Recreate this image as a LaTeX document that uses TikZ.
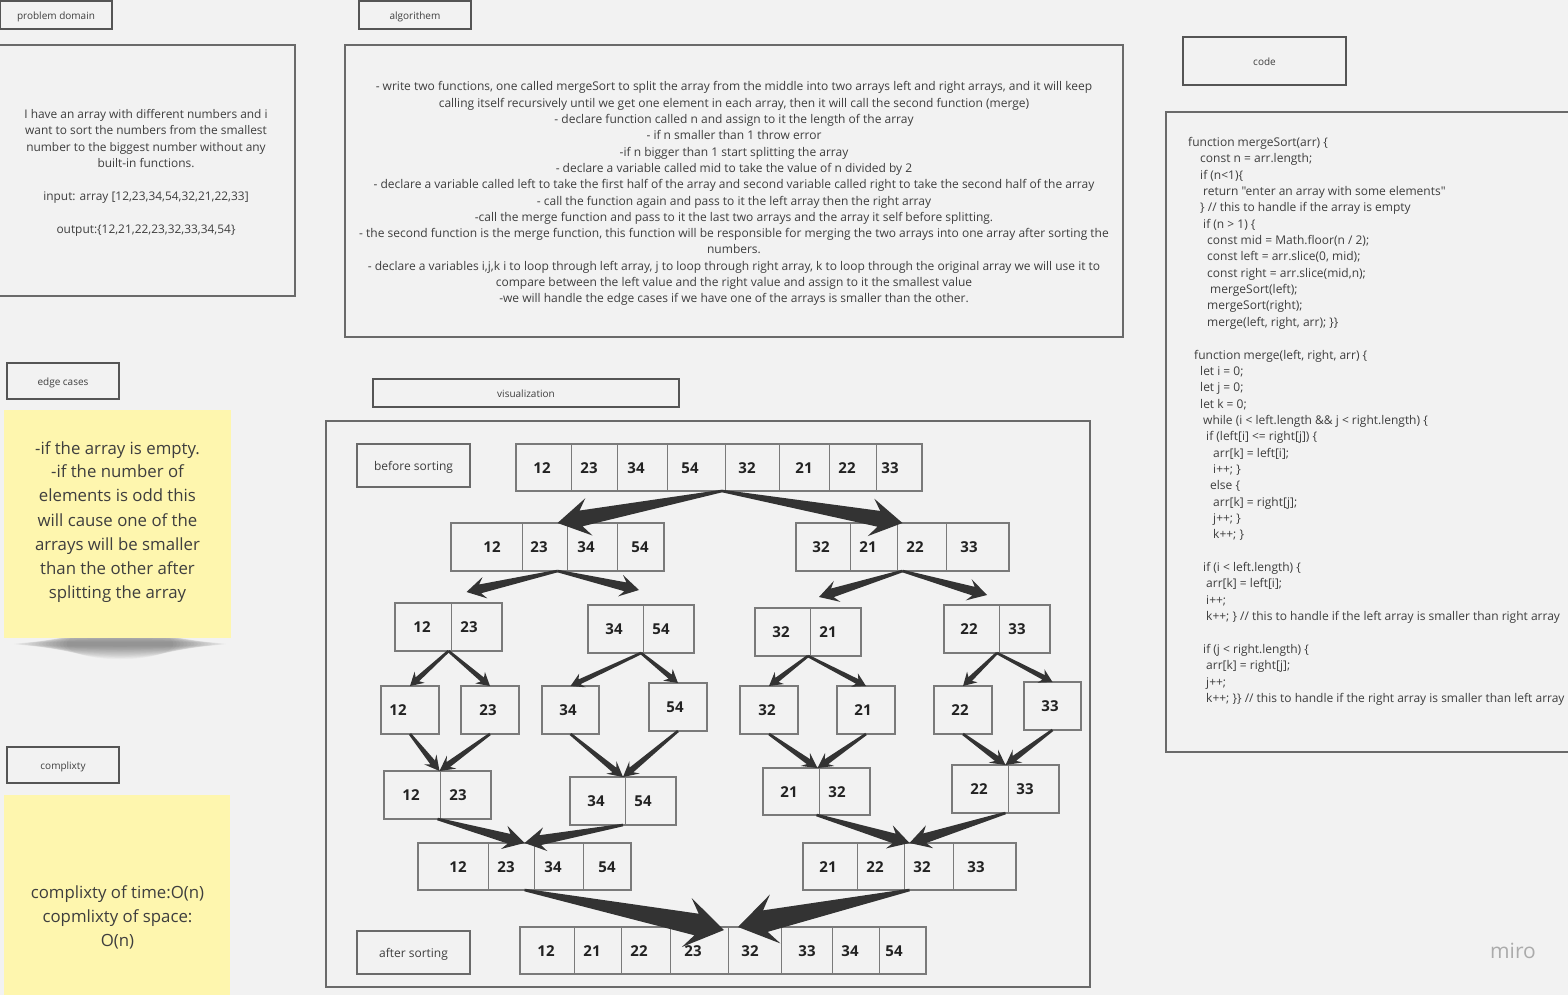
\documentclass[tikz,border=0pt]{standalone}
\usepackage{fontspec}
\setmainfont{Open Sans}[Ligatures=TeXOff]
\usetikzlibrary{calc}
\definecolor{bg}{HTML}{F2F2F2}
\definecolor{txt}{HTML}{3E3E3E}
\definecolor{edgec}{HTML}{555555}
\definecolor{panelc}{HTML}{6A6A6A}
\definecolor{cellc}{HTML}{7A7A7A}
\definecolor{sticky}{HTML}{FEF6AE}
\definecolor{arrowc}{HTML}{333333}
\definecolor{numc}{HTML}{222222}
\tikzset{
  lbl/.style={draw=edgec, line width=1.4pt, fill=bg, inner sep=0pt, outer sep=0pt, text=txt, font=\fontsize{10}{12}\selectfont, text height=1.0em, text depth=0.08em},
  biglbl/.style={lbl, draw=panelc, line width=1.2pt, font=\fontsize{12}{14}\selectfont},
  panel/.style={draw=panelc, line width=1.2pt, inner sep=0pt, outer sep=0pt},
  arrbox/.style={draw=cellc, line width=1.3pt, fill=bg, inner sep=0pt, outer sep=0pt},
  divider/.style={draw=cellc, line width=0.9pt},
  num/.style={font=\fontsize{15}{18}\selectfont\bfseries, text=numc, inner sep=0pt, text height=1.15em, text depth=0em},
  tline/.style={text=txt, inner sep=0pt, text height=0.98em, text depth=0.1em},
  algtxt/.style={tline, font=\fontsize{12}{14}\selectfont},
  probtxt/.style={tline, font=\fontsize{11.9}{14}\selectfont},
  codetxt/.style={tline, anchor=west, font=\fontsize{12}{14}\selectfont},
  stickytxt/.style={tline, font=\fontsize{16.8}{20}\selectfont},
}
\newcommand\arr[7]{%
  \node[arrbox, minimum width={#4-#2}, minimum height={#5-#3}] (#1) at ({(#2+#4)/2},{(#3+#5)/2}) {};
  \foreach \d in {#6} {\draw[divider] (\d,#3) -- (\d,#5);}
  \foreach \x/\t in {#7} {\node[num] (#1n\t) at (\x,{(#3+#5)/2}) {\t};}
}
\newcommand\tarrow[6]{%
  \coordinate (tarJ) at ($(#2)!#4!(#1)$);
  \coordinate (tarH) at ($(#2)!#5!(#1)$);
  \fill[arrowc] ($(#1)!1.3pt!90:(#2)$) -- ($(tarJ)!#3!90:(#2)$) -- ($(tarH)!#6!90:(#2)$) -- (#2)
     -- ($(tarH)!#6!-90:(#2)$) -- ($(tarJ)!#3!-90:(#2)$) -- ($(#1)!1.3pt!-90:(#2)$) -- cycle;
}
\begin{document}
\begin{tikzpicture}[x=1pt,y=-1pt]
\useasboundingbox[fill=bg] (0,0) rectangle (1568,995);

% ---------- problem domain ----------
\node[lbl, minimum width=112, minimum height=28] (pdlbl) at (56,15) {problem domain};
\node[panel, minimum width=297, minimum height=251] (pbox) at (146.5,170.5) {};
\node[probtxt] (p1) at (146,114) {I have an array with different numbers and i};
\node[probtxt] (p2) at (146,130.5) {want to sort the numbers from the smallest};
\node[probtxt] (p3) at (146,147) {number to the biggest number without any};
\node[probtxt] (p4) at (146,163) {built-in functions.};
\node[probtxt] (p5) at (146,196) {input: array [12,23,34,54,32,21,22,33]};
\node[probtxt] (p6) at (146,229) {output:\{12,21,22,23,32,33,34,54\}};

% ---------- algorithm ----------
\node[lbl, minimum width=112, minimum height=28] (allbl) at (415,15) {algorithem};
\node[panel, minimum width=778, minimum height=292] (abox) at (734,191) {};
\node[algtxt] (a01) at (734,86.5) {- write two functions, one called mergeSort to split the array from the middle into two arrays left and right arrays, and it will keep};
\node[algtxt] (a02) at (734,102.8) {calling itself recursively until we get one element in each array, then it will call the second function (merge)};
\node[algtxt] (a03) at (734,119.1) {- declare function called n and assign to it the length of the array};
\node[algtxt] (a04) at (734,135.4) {- if n smaller than 1 throw error};
\node[algtxt] (a05) at (734,151.7) {-if n bigger than 1 start splitting the array};
\node[algtxt] (a06) at (734,168) {- declare a variable called mid to take the value of n divided by 2};
\node[algtxt] (a07) at (734,184.3) {- declare a variable called left to take the first half of the array and second variable called right to take the second half of the array};
\node[algtxt] (a08) at (734,200.6) {- call the function again and pass to it the left array then the right array};
\node[algtxt] (a09) at (734,216.9) {-call the merge function and pass to it the last two arrays and the array it self before splitting.};
\node[algtxt] (a10) at (734,233.2) {- the second function is the merge function, this function will be responsible for merging the two arrays into one array after sorting the};
\node[algtxt] (a11) at (734,249.5) {numbers.};
\node[algtxt] (a12) at (734,265.8) {- declare a variables i,j,k i to loop through left array, j to loop through right array, k to loop through the original array we will use it to};
\node[algtxt] (a13) at (734,282.1) {compare between the left value and the right value and assign to it the smallest value};
\node[algtxt] (a14) at (734,298.4) {-we will handle the edge cases if we have one of the arrays is smaller than the other.};

% ---------- code ----------
\node[lbl, minimum width=163, minimum height=48] (cdlbl) at (1264.5,61) {code};
\node[panel, minimum width=410, minimum height=640] (cbox) at (1371,432) {};
\node[codetxt] (k01) at (1188,142) {function mergeSort(arr) \{};
\node[codetxt] (k02) at (1200,158.4) {const n = arr.length;};
\node[codetxt] (k03) at (1200,174.7) {if (n<1)\{};
\node[codetxt] (k04) at (1203,191) {return "enter an array with some elements"};
\node[codetxt] (k05) at (1200,207.4) {\} // this to handle if the array is empty};
\node[codetxt] (k06) at (1203,223.8) {if (n > 1) \{};
\node[codetxt] (k07) at (1207,240.1) {const mid = Math.floor(n / 2);};
\node[codetxt] (k08) at (1207,256.5) {const left = arr.slice(0, mid);};
\node[codetxt] (k09) at (1207,272.8) {const right = arr.slice(mid,n);};
\node[codetxt] (k10) at (1210,289.2) {mergeSort(left);};
\node[codetxt] (k11) at (1207,305.5) {mergeSort(right);};
\node[codetxt] (k12) at (1207,321.9) {merge(left, right, arr); \}\}};
\node[codetxt] (k14) at (1194,354.6) {function merge(left, right, arr) \{};
\node[codetxt] (k15) at (1200,370.9) {let i = 0;};
\node[codetxt] (k16) at (1200,387.3) {let j = 0;};
\node[codetxt] (k17) at (1200,403.6) {let k = 0;};
\node[codetxt] (k18) at (1203,420) {while (i < left.length \&\& j < right.length) \{};
\node[codetxt] (k19) at (1206,436.3) {if (left[i] <= right[j]) \{};
\node[codetxt] (k20) at (1213,452.7) {arr[k] = left[i];};
\node[codetxt] (k21) at (1213,469) {i++; \}};
\node[codetxt] (k22) at (1210,485.4) {else \{};
\node[codetxt] (k23) at (1213,501.8) {arr[k] = right[j];};
\node[codetxt] (k24) at (1213,518.1) {j++; \}};
\node[codetxt] (k25) at (1213,534.5) {k++; \}};
\node[codetxt] (k27) at (1203,567.2) {if (i < left.length) \{};
\node[codetxt] (k28) at (1206,583.5) {arr[k] = left[i];};
\node[codetxt] (k29) at (1206,599.9) {i++;};
\node[codetxt] (k30) at (1206,616.2) {k++; \} // this to handle if the left array is smaller than right array};
\node[codetxt] (k32) at (1203,648.9) {if (j < right.length) \{};
\node[codetxt] (k33) at (1206,665.3) {arr[k] = right[j];};
\node[codetxt] (k34) at (1206,681.6) {j++;};
\node[codetxt] (k35) at (1206,698) {k++; \}\} // this to handle if the right array is smaller than left array};

% ---------- edge cases ----------
\node[lbl, minimum width=112, minimum height=36] (eclbl) at (63,381) {edge cases};
\foreach \i in {0,...,15} {\fill[black, opacity=0.026] (120,644) ellipse ({106-\i*3.5} and {2.5+\i*0.85});}
\fill[sticky] (4,410) rectangle (231,638);
\node[stickytxt] (s1) at (117.5,450) {-if the array is empty.};
\node[stickytxt] (s2) at (117.5,473.5) {-if the number of};
\node[stickytxt] (s3) at (117.5,497.5) {elements is odd this};
\node[stickytxt] (s4) at (117.5,522) {will cause one of the};
\node[stickytxt] (s5) at (117.5,546.5) {arrays will be smaller};
\node[stickytxt] (s6) at (117.5,570.5) {than the other after};
\node[stickytxt] (s7) at (117.5,594.5) {splitting the array};

% ---------- complexity ----------
\node[lbl, minimum width=112, minimum height=36] (cxlbl) at (63,765) {complixty};
\fill[sticky] (4,795) rectangle (230,1000);
\node[stickytxt] (x1) at (117.5,894) {complixty of time:O(n)};
\node[stickytxt] (x2) at (117.5,918) {copmlixty of space:};
\node[stickytxt] (x3) at (117.5,942) {O(n)};

% ---------- visualization ----------
\node[lbl, minimum width=306, minimum height=28] (vilbl) at (526,393) {visualization};
\node[panel, minimum width=764, minimum height=566] (vbox) at (708,704) {};
\node[biglbl, minimum width=113, minimum height=43] (bslbl) at (413.5,465.5) {before sorting};
\node[biglbl, minimum width=113, minimum height=43] (aslbl) at (413.5,952.5) {after sorting};

\arr{a0}{516}{444}{922}{491}{571,617,667,725,779,829,876}{542/12,589/23,636/34,690/54,747/32,804/21,847/22,890/33}
\arr{a1}{451}{523}{664}{571}{522,567,617}{492/12,539/23,586/34,640/54}
\arr{a2}{796}{523}{1009}{571}{850,897,946}{821/32,868/21,915/22,969/33}
\arr{b1}{395}{603}{502}{651}{451}{422/12,469/23}
\arr{b2}{588}{605}{694}{653}{643}{614/34,661/54}
\arr{b3}{755}{608}{861}{656}{810}{781/32,828/21}
\arr{b4}{944}{605}{1050}{653}{999}{969/22,1017/33}
\arr{c1}{381}{686}{439}{734}{381}{398/12}
\arr{c2}{461}{686}{519}{734}{461}{488/23}
\arr{c3}{542}{686}{599}{734}{542}{568/34}
\arr{c4}{649}{683}{707}{731}{649}{675/54}
\arr{c5}{740}{686}{798}{734}{740}{767/32}
\arr{c6}{837}{686}{895}{734}{837}{863/21}
\arr{c7}{934}{686}{992}{734}{934}{960/22}
\arr{c8}{1024}{682}{1081}{730}{1024}{1050/33}
\arr{d1}{384}{771}{491}{819}{440}{411/12,458/23}
\arr{d2}{570}{777}{676}{825}{625}{596/34,643/54}
\arr{d3}{763}{768}{870}{815}{819}{789/21,837/32}
\arr{d4}{952}{765}{1059}{813}{1008}{979/22,1025/33}
\arr{e1}{418}{843}{631}{890}{488,534,583}{458/12,506/23,553/34,607/54}
\arr{e2}{803}{843}{1016}{890}{857,904,953}{828/21,875/22,922/32,976/33}
\arr{f}{520}{927}{926}{974}{574,621,670,728,781,832,879}{546/12,592/21,639/22,693/23,750/32,807/33,850/34,894/54}

% ---------- connectors ----------
\coordinate (a0s) at ($(a0.south)+(3,0)$);
\tarrow{a0s}{a1.north}{8pt}{24pt}{32pt}{19pt}
\tarrow{a0s}{a2.north}{8pt}{24pt}{32pt}{19pt}
\coordinate (tb1) at ($(b1.north)+(18,-11)$);
\coordinate (tb2) at ($(b2.north)+(-2,-15)$);
\coordinate (tb3) at ($(b3.north)+(11,-11)$);
\coordinate (tb4) at ($(b4.north)+(-10,-10)$);
\tarrow{a1.south}{tb1}{4.5pt}{14pt}{19pt}{11pt}
\tarrow{a1.south}{tb2}{4.5pt}{14pt}{19pt}{11pt}
\tarrow{a2.south}{tb3}{4.5pt}{14pt}{19pt}{11pt}
\tarrow{a2.south}{tb4}{4.5pt}{14pt}{19pt}{11pt}
\tarrow{b1.south}{c1.north}{2.6pt}{10pt}{13pt}{7.5pt}
\tarrow{b1.south}{c2.north}{2.6pt}{10pt}{13pt}{7.5pt}
\tarrow{b2.south}{c3.north}{2.6pt}{10pt}{13pt}{7.5pt}
\tarrow{b2.south}{c4.north}{2.6pt}{10pt}{13pt}{7.5pt}
\tarrow{b3.south}{c5.north}{2.6pt}{10pt}{13pt}{7.5pt}
\tarrow{b3.south}{c6.north}{2.6pt}{10pt}{13pt}{7.5pt}
\tarrow{b4.south}{c7.north}{2.6pt}{10pt}{13pt}{7.5pt}
\tarrow{b4.south}{c8.north}{2.6pt}{10pt}{13pt}{7.5pt}
\coordinate (td1) at ($(d1.north)+(2,0)$);
\coordinate (td2) at ($(d2.north)+(0,0)$);
\coordinate (td3) at ($(d3.north)+(1,0)$);
\coordinate (td4) at ($(d4.north)+(0,0)$);
\tarrow{c1.south}{td1}{3pt}{11pt}{15pt}{8pt}
\tarrow{c2.south}{td1}{3pt}{11pt}{15pt}{8pt}
\tarrow{c3.south}{td2}{3pt}{11pt}{15pt}{8pt}
\tarrow{c4.south}{td2}{3pt}{11pt}{15pt}{8pt}
\tarrow{c5.south}{td3}{3pt}{11pt}{15pt}{8pt}
\tarrow{c6.south}{td3}{3pt}{11pt}{15pt}{8pt}
\tarrow{c7.south}{td4}{3pt}{11pt}{15pt}{8pt}
\tarrow{c8.south}{td4}{3pt}{11pt}{15pt}{8pt}
\tarrow{d1.south}{e1.north}{5pt}{16pt}{21pt}{12pt}
\tarrow{d2.south}{e1.north}{5pt}{16pt}{21pt}{12pt}
\tarrow{d3.south}{e2.north}{5pt}{16pt}{21pt}{12pt}
\tarrow{d4.south}{e2.north}{5pt}{16pt}{21pt}{12pt}
\coordinate (tfL) at ($(f.north)+(1,3)$);
\coordinate (tfR) at ($(f.north)+(15,0)$);
\tarrow{e1.south}{tfL}{11pt}{28pt}{38pt}{25pt}
\tarrow{e2.south}{tfR}{11pt}{28pt}{38pt}{25pt}

% ---------- watermark ----------
\node[text=black!33, font=\fontsize{21}{24}\selectfont, inner sep=0pt] (miro) at (1513,951) {miro};
\end{tikzpicture}
\end{document}
